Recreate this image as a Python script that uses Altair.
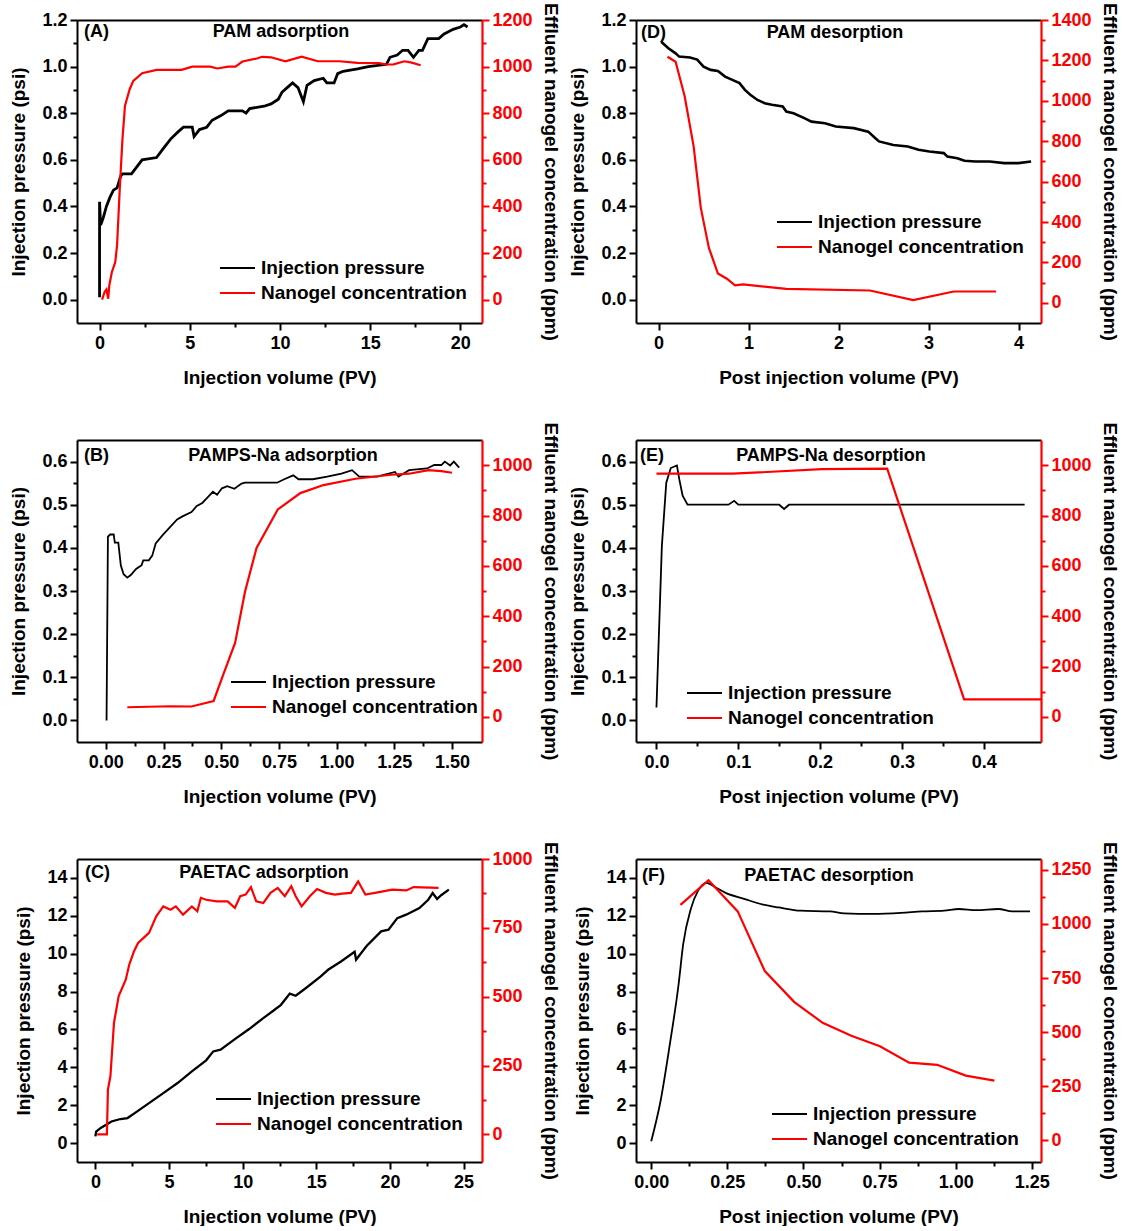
import altair as alt
import pandas as pd

FONT = "Liberation Sans"
SERIES = ["Injection pressure", "Nanogel concentration"]

# ---------------- data (x = PV, y = psi / ppm) ----------------
A_press = [(0,0.01),(0,0.42),(0.06,0.32),(0.2,0.35),(0.38,0.40),(0.58,0.44),(0.77,0.47),(0.97,0.48),(1.17,0.53),(1.27,0.54),(1.77,0.54),(1.97,0.56),(2.36,0.60),(3.16,0.61),(3.55,0.65),(3.95,0.69),(4.35,0.72),(4.65,0.74),(5.14,0.74),(5.24,0.70),(5.54,0.73),(5.94,0.74),(6.24,0.77),(6.73,0.79),(7.13,0.81),(7.92,0.81),(8.12,0.80),(8.32,0.82),(9.12,0.83),(9.51,0.84),(9.91,0.86),(10.11,0.89),(10.4,0.91),(10.7,0.93),(11.0,0.91),(11.2,0.87),(11.3,0.85),(11.5,0.92),(11.9,0.94),(12.4,0.95),(12.6,0.93),(13.0,0.93),(13.2,0.97),(13.5,0.98),(14.3,0.99),(14.9,1.00),(15.9,1.01),(16.1,1.04),(16.5,1.05),(16.8,1.07),(17.1,1.07),(17.4,1.04),(17.7,1.07),(17.9,1.07),(18.2,1.12),(18.8,1.12),(19.1,1.14),(19.6,1.16),(20.0,1.17),(20.2,1.18),(20.4,1.17)]
A_conc = [(0.14,0),(0.28,33),(0.38,44),(0.48,4),(0.54,61),(0.68,118),(0.87,161),(0.97,233),(1.13,490),(1.27,689),(1.41,832),(1.67,903),(1.87,939),(2.36,972),(3.16,986),(4.55,986),(5.14,1000),(6.14,1000),(6.53,992),(7.13,1000),(7.53,1000),(7.92,1022),(8.72,1035),(9.0,1042),(9.51,1040),(10.3,1023),(11.2,1043),(12.1,1023),(13.3,1023),(14.3,1016),(15.5,1015),(15.9,1009),(16.3,1010),(16.9,1023),(17.3,1017),(17.8,1006)]

D_press = [(0.03,1.107),(0.07,1.093),(0.11,1.079),(0.19,1.057),(0.23,1.043),(0.35,1.039),(0.43,1.03),(0.50,1.0),(0.58,0.986),(0.66,0.981),(0.74,0.957),(0.82,0.943),(0.90,0.929),(0.96,0.90),(1.02,0.879),(1.10,0.857),(1.18,0.843),(1.26,0.836),(1.38,0.829),(1.42,0.807),(1.50,0.80),(1.62,0.779),(1.70,0.764),(1.85,0.757),(1.97,0.743),(2.17,0.736),(2.33,0.721),(2.41,0.693),(2.45,0.679),(2.61,0.664),(2.77,0.657),(2.89,0.643),(3.01,0.636),(3.17,0.629),(3.21,0.614),(3.32,0.607),(3.40,0.596),(3.52,0.593),(3.68,0.593),(3.84,0.586),(4.0,0.586),(4.14,0.593)]
D_conc = [(0.10,1218),(0.19,1193),(0.29,1024),(0.39,776),(0.47,470),(0.56,272),(0.66,145),(0.76,119),(0.85,86),(0.94,91),(1.42,69),(2.35,61),(2.83,13),(3.28,56),(3.75,56)]

B_press = [(0.003,0.0),(0.009,0.426),(0.019,0.431),(0.034,0.431),(0.039,0.412),(0.054,0.412),(0.065,0.359),(0.077,0.339),(0.093,0.331),(0.108,0.337),(0.131,0.351),(0.155,0.36),(0.162,0.371),(0.186,0.371),(0.201,0.382),(0.216,0.41),(0.247,0.43),(0.278,0.448),(0.309,0.466),(0.332,0.473),(0.371,0.483),(0.394,0.497),(0.418,0.504),(0.441,0.517),(0.464,0.53),(0.482,0.523),(0.503,0.538),(0.526,0.543),(0.557,0.537),(0.588,0.549),(0.603,0.551),(0.742,0.551),(0.773,0.559),(0.812,0.568),(0.835,0.559),(0.897,0.559),(0.959,0.565),(1.021,0.572),(1.067,0.58),(1.098,0.565),(1.175,0.565),(1.253,0.576),(1.268,0.565),(1.314,0.58),(1.392,0.584),(1.423,0.592),(1.454,0.592),(1.469,0.6),(1.492,0.591),(1.508,0.6),(1.531,0.586)]
B_conc = [(0.093,38),(0.278,42),(0.371,41),(0.467,63),(0.51,171),(0.56,294),(0.603,497),(0.653,671),(0.745,824),(0.843,889),(0.943,921),(1.082,946),(1.237,962),(1.314,966),(1.399,980),(1.454,976),(1.5,970)]

E_press = [(0.0,0.03),(0.0066,0.404),(0.012,0.551),(0.0175,0.585),(0.025,0.591),(0.028,0.558),(0.032,0.521),(0.038,0.5),(0.088,0.5),(0.095,0.509),(0.1,0.5),(0.15,0.5),(0.156,0.49),(0.162,0.5),(0.45,0.5)]
E_conc = [(0.0,966),(0.093,966),(0.202,984),(0.282,986),(0.376,69),(0.47,69)]

C_press = [(0,0.35),(0.05,0.6),(0.36,0.8),(0.73,0.97),(1.09,1.14),(1.7,1.27),(2.18,1.32),(2.67,1.58),(3.64,2.11),(4.61,2.64),(5.58,3.17),(6.55,3.79),(7.52,4.37),(8.0,4.84),(8.5,4.93),(9.47,5.49),(10.44,6.02),(11.4,6.6),(12.1,7.0),(12.6,7.3),(13.2,7.89),(13.6,7.78),(14.3,8.19),(15.3,8.8),(15.8,9.15),(16.7,9.6),(17.6,10.1),(17.7,9.68),(18.4,10.39),(19.4,11.18),(19.9,11.27),(20.5,11.88),(21.1,12.06),(22.0,12.41),(22.6,12.85),(22.9,13.2),(23.2,12.89),(23.5,13.1),(24.0,13.38)]
C_conc = [(0.12,0),(0.78,0),(0.85,163),(1.02,212),(1.26,405),(1.58,502),(2.06,562),(2.3,617),(2.62,665),(2.9,695),(3.4,720),(3.64,732),(4.13,792),(4.61,828),(5.1,816),(5.46,828),(5.95,798),(6.55,828),(6.92,810),(7.16,859),(7.52,852),(8.25,846),(8.98,846),(9.47,822),(9.83,865),(10.2,871),(10.56,898),(10.92,846),(11.4,840),(11.89,877),(12.38,895),(12.86,865),(13.3,901),(13.6,865),(14.0,828),(14.56,865),(15.05,891),(15.65,877),(16.26,871),(16.75,874),(17.35,877),(17.84,919),(18.33,871),(19.17,879),(20.15,889),(21.12,886),(21.6,898),(23.3,895)]

F_press = [(0.0,0.1),(0.03,2.17),(0.06,5.1),(0.09,8.4),(0.105,10.5),(0.13,12.36),(0.153,13.3),(0.182,13.74),(0.211,13.5),(0.246,13.2),(0.305,12.9),(0.364,12.6),(0.42,12.44),(0.49,12.27),(0.587,12.23),(0.634,12.13),(0.728,12.1),(0.82,12.15),(0.89,12.23),(0.962,12.27),(1.01,12.36),(1.068,12.3),(1.14,12.36),(1.185,12.23),(1.244,12.23)]
F_conc = [(0.096,1088),(0.188,1202),(0.284,1058),(0.373,782),(0.47,639),(0.563,543),(0.657,483),(0.751,435),(0.847,359),(0.939,349),(1.033,299),(1.127,276)]

# titles
X_TITLE_ADS = "Injection volume (PV)"
X_TITLE_DES = "Post injection volume (PV)"
Y_TITLE_L = "Injection pressure (psi)"
Y_TITLE_R = "Effluent nanogel concentration (ppm)"

PANELS = [
    dict(tag="(A)", name="PAM adsorption", press=A_press, conc=A_conc, xtitle=X_TITLE_ADS,
         xdom=[-1.25, 21.2], xt=(0, 20, 5, 2.5), xfmt="d",
         ydom=[-0.1, 1.2], yt=(0, 1.2, 0.2, 0.1), yfmt=".1f",
         rdom=[-100, 1200], rt=(0, 1200, 200, 100), rfmt="d",
         h=303, tagpos=(7, 12), namex=204, legpos=(142, 238), psw=2.8, interp="linear"),
    dict(tag="(D)", name="PAM desorption", press=D_press, conc=D_conc, xtitle=X_TITLE_DES,
         xdom=[-0.25, 4.25], xt=(0, 4, 1, 0.5), xfmt="d",
         ydom=[-0.1, 1.2], yt=(0, 1.2, 0.2, 0.1), yfmt=".1f",
         rdom=[-100, 1400], rt=(0, 1400, 200, 100), rfmt="d",
         h=303, tagpos=(5, 13), namex=199, legpos=(140, 192), psw=2.6, interp="linear"),
    dict(tag="(B)", name="PAMPS-Na adsorption", press=B_press, conc=B_conc, xtitle=X_TITLE_ADS,
         xdom=[-0.125, 1.63], xt=(0, 1.5, 0.25, 0.125), xfmt=".2f",
         ydom=[-0.05, 0.65], yt=(0, 0.6, 0.1, 0.05), yfmt=".1f",
         rdom=[-100, 1100], rt=(0, 1000, 200, 100), rfmt="d",
         h=302, tagpos=(7, 16), namex=206, legpos=(153, 232), psw=1.8, interp="linear"),
    dict(tag="(E)", name="PAMPS-Na desorption", press=E_press, conc=E_conc, xtitle=X_TITLE_DES,
         xdom=[-0.025, 0.47], xt=(0, 0.4, 0.1, 0.05), xfmt=".1f",
         ydom=[-0.05, 0.65], yt=(0, 0.6, 0.1, 0.05), yfmt=".1f",
         rdom=[-100, 1100], rt=(0, 1000, 200, 100), rfmt="d",
         h=302, tagpos=(4, 16), namex=195, legpos=(50, 243), psw=1.8, interp="linear"),
    dict(tag="(C)", name="PAETAC adsorption", press=C_press, conc=C_conc, xtitle=X_TITLE_ADS,
         xdom=[-1.25, 26.25], xt=(0, 25, 5, 2.5), xfmt="d",
         ydom=[-1, 15], yt=(0, 14, 2, 1), yfmt="d",
         rdom=[-100, 1000], rt=(0, 1000, 250, 125), rfmt="d",
         h=303, tagpos=(8, 14), namex=187, legpos=(138, 230), psw=2.3, interp="linear"),
    dict(tag="(F)", name="PAETAC desorption", press=F_press, conc=F_conc, xtitle=X_TITLE_DES,
         xdom=[-0.05, 1.28], xt=(0, 1.25, 0.25, 0.125), xfmt=".2f",
         ydom=[-1, 15], yt=(0, 14, 2, 1), yfmt="d",
         rdom=[-100, 1300], rt=(0, 1250, 250, 125), rfmt="d",
         h=303, tagpos=(6, 17), namex=193, legpos=(135, 245), psw=1.8, interp="monotone"),
]

W = 405


def tick_values(lo, hi, step):
    n = int(round((hi - lo) / step))
    return [round(lo + k * step, 6) for k in range(n + 1)]


def major_test(step):
    return f"abs(datum.value/{step} - round(datum.value/{step})) < 0.001"


def make_axis(orient, ticks, fmt, title, color, title_pad, label_pad=3):
    lo, hi, major, minor = ticks
    test = major_test(major)
    return alt.Axis(
        orient=orient, values=tick_values(lo, hi, minor), format=fmt,
        labelExpr=f"({test}) ? datum.label : ''",
        tickSize={"condition": {"test": test, "value": 7}, "value": 4},
        tickColor=color, tickWidth=2, domainColor=color, domainWidth=2.2 if color != "black" else 2,
        labelColor=color, labelFont=FONT, labelFontSize=18, labelFontWeight="bold",
        labelPadding=label_pad, labelFlush=False, labelOverlap=False,
        title=title, titleFont=FONT, titleFontSize=19, titleFontWeight="bold",
        titleColor="black", titlePadding=title_pad, grid=False,
    )


def frame(rows):
    return pd.DataFrame([{"x": x, "y": y, "i": k} for k, (x, y) in enumerate(rows)])


color_scale = alt.Scale(domain=SERIES, range=["black", "red"])

charts = []
for p in PANELS:
    dp = frame(p["press"]); dp["series"] = SERIES[0]
    dc = frame(p["conc"]); dc["series"] = SERIES[1]
    xscale = alt.Scale(domain=p["xdom"], nice=False, zero=False)
    legend = alt.Legend(
        orient="none", legendX=p["legpos"][0], legendY=p["legpos"][1], title=None,
        symbolType="stroke", symbolSize=1225, symbolStrokeWidth=2, clipHeight=20,
        labelFont=FONT, labelFontSize=19, labelFontWeight="bold", labelColor="black",
        labelOffset=5, labelLimit=0, rowPadding=5, padding=0,
    )
    l1 = alt.Chart(dp).mark_line(strokeWidth=p["psw"], clip=True, interpolate=p["interp"]).encode(
        x=alt.X("x:Q", scale=xscale, axis=make_axis("bottom", p["xt"], p["xfmt"], p["xtitle"], "black", 16, 4)),
        y=alt.Y("y:Q", scale=alt.Scale(domain=p["ydom"], nice=False, zero=False),
                axis=make_axis("left", p["yt"], p["yfmt"], Y_TITLE_L, "black", 13)),
        color=alt.Color("series:N", scale=color_scale, legend=legend),
        order="i:Q",
    )
    l2 = alt.Chart(dc).mark_line(strokeWidth=2.2, clip=True).encode(
        x=alt.X("x:Q", scale=xscale,
                axis=alt.Axis(orient="top", labels=False, ticks=False, title=None, grid=False,
                              domainColor="black", domainWidth=2)),
        y=alt.Y("y:Q", scale=alt.Scale(domain=p["rdom"], nice=False, zero=False),
                axis=make_axis("right", p["rt"], p["rfmt"], Y_TITLE_R, "red", 8)),
        color=alt.Color("series:N", scale=color_scale, legend=None),
        order="i:Q",
    )
    one = alt.Data(values=[{"k": 1}])
    t1 = alt.Chart(one).mark_text(font=FONT, fontSize=18, fontWeight="bold", align="left",
                                  baseline="middle", color="black").encode(
        x=alt.value(p["tagpos"][0]), y=alt.value(p["tagpos"][1]), text=alt.value(p["tag"]))
    t2 = alt.Chart(one).mark_text(font=FONT, fontSize=18, fontWeight="bold", align="center",
                                  baseline="middle", color="black").encode(
        x=alt.value(p["namex"]), y=alt.value(p["tagpos"][1]), text=alt.value(p["name"]))
    layer = alt.layer(l1, l2, t1, t2).resolve_scale(y="independent").resolve_axis(
        x="independent").properties(width=W, height=p["h"])
    charts.append(layer)

chart = alt.concat(*charts, columns=2, spacing=alt.RowColnumber(row=35, column=8)).resolve_scale(
    color="independent").resolve_legend(color="independent").properties(
    padding={"left": 9, "top": 2, "right": 3, "bottom": 0}
).configure_view(stroke=None)

chart.save("out.html", embed_options={"renderer": "svg", "actions": False})
